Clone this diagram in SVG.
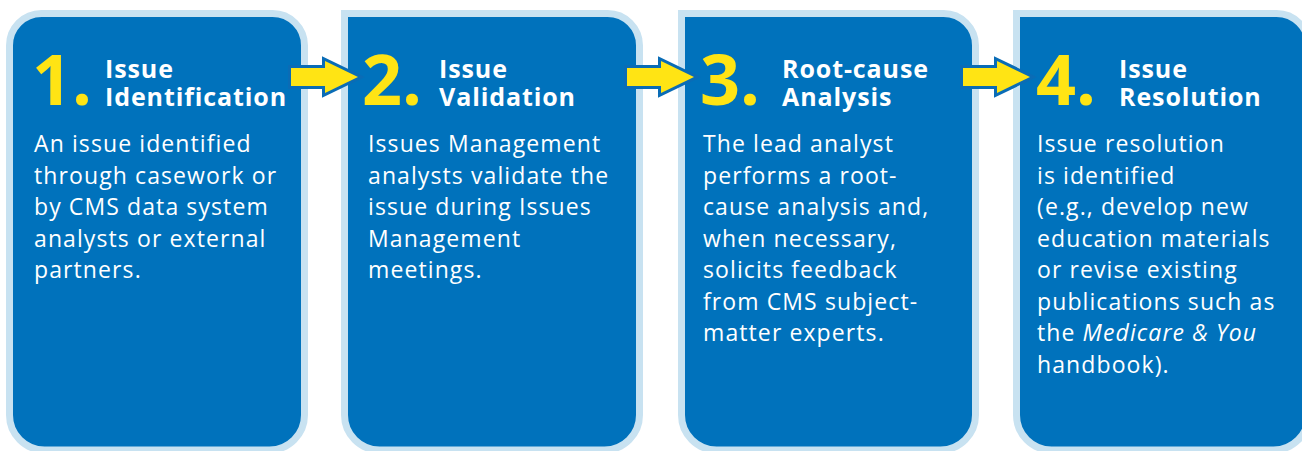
<svg xmlns="http://www.w3.org/2000/svg" width="1302" height="451" viewBox="0 0 1302 451">
<style>
.box{fill:#0072bc;stroke:#c8e2f1;stroke-width:7}
.arr{fill:#ffe414;stroke:#0a6cb6;stroke-width:6;stroke-linejoin:miter;paint-order:stroke}
.num{font-family:"Open Sans",sans-serif;font-weight:700;font-size:70px;fill:#ffe414}
.hd{font-family:"Open Sans",sans-serif;font-weight:700;font-size:25px;letter-spacing:0.9px;fill:#fff}
.bd{font-family:"Open Sans",sans-serif;font-size:23px;letter-spacing:1.1px;fill:#fff}
</style>
<rect width="1302" height="451" fill="#fff"/>
<g id="node1">
<path class="box" d="M9.5,46 A32,32 0 0 1 41.5,13.5 H272 A32,32 0 0 1 304.5,46 V415 A35,35 0 0 1 269.5,450 H44.5 A35,35 0 0 1 9.5,415 Z"/>
<text class="num" x="32" y="105">1.</text>
<text class="hd" x="105" y="78">Issue</text>
<text class="hd" x="105" y="106">Identification</text>
<text class="bd"><tspan x="34" y="152">An issue identified</tspan><tspan x="34" y="183.5">through casework or</tspan><tspan x="34" y="215">by CMS data system</tspan><tspan x="34" y="246.5">analysts or external</tspan><tspan x="34" y="278">partners.</tspan></text>
</g>
<g id="node2">
<path class="box" d="M344.5,13.5 H607 A32,32 0 0 1 639.5,46 V415 A35,35 0 0 1 604.5,450 H379.5 A35,35 0 0 1 344.5,415 Z"/>
<text class="num" x="362" y="105">2.</text>
<text class="hd" x="439" y="78">Issue</text>
<text class="hd" x="439" y="106">Validation</text>
<text class="bd"><tspan x="368" y="152">Issues Management</tspan><tspan x="368" y="183.5">analysts validate the</tspan><tspan x="368" y="215">issue during Issues</tspan><tspan x="368" y="246.5">Management</tspan><tspan x="368" y="278">meetings.</tspan></text>
</g>
<g id="node3">
<path class="box" d="M681.5,13.5 H943 A32,32 0 0 1 975.5,46 V415 A35,35 0 0 1 940.5,450 H716.5 A35,35 0 0 1 681.5,415 Z"/>
<text class="num" x="700" y="105">3.</text>
<text class="hd" x="782" y="78">Root-cause</text>
<text class="hd" x="782" y="106">Analysis</text>
<text class="bd"><tspan x="703" y="152">The lead analyst</tspan><tspan x="703" y="183.5">performs a root-</tspan><tspan x="703" y="215">cause analysis and,</tspan><tspan x="703" y="246.5">when necessary,</tspan><tspan x="703" y="278">solicits feedback</tspan><tspan x="703" y="309.5">from CMS subject-</tspan><tspan x="703" y="341">matter experts.</tspan></text>
</g>
<g id="node4">
<path class="box" d="M1016.5,13.5 H1276 A32,32 0 0 1 1308.5,46 V415 A35,35 0 0 1 1273.5,450 H1051.5 A35,35 0 0 1 1016.5,415 Z"/>
<text class="num" x="1036" y="105">4.</text>
<text class="hd" x="1119" y="78">Issue</text>
<text class="hd" x="1119" y="106">Resolution</text>
<text class="bd"><tspan x="1037" y="152">Issue resolution</tspan><tspan x="1037" y="183.5">is identified</tspan><tspan x="1037" y="215">(e.g., develop new</tspan><tspan x="1037" y="246.5">education materials</tspan><tspan x="1037" y="278">or revise existing</tspan><tspan x="1037" y="309.5">publications such as</tspan><tspan x="1037" y="341">the <tspan font-style="italic">Medicare &amp; You</tspan></tspan><tspan x="1037" y="372.5">handbook).</tspan></text>
</g>
<g id="connectors">
<polygon class="arr" points="291,68 325,68 325,61 358,77 325,93 325,86 291,86"/>
<polygon class="arr" points="627,68 661,68 661,61 694,77 661,93 661,86 627,86"/>
<polygon class="arr" points="963,68 997,68 997,61 1030,77 997,93 997,86 963,86"/>
</g>
</svg>
